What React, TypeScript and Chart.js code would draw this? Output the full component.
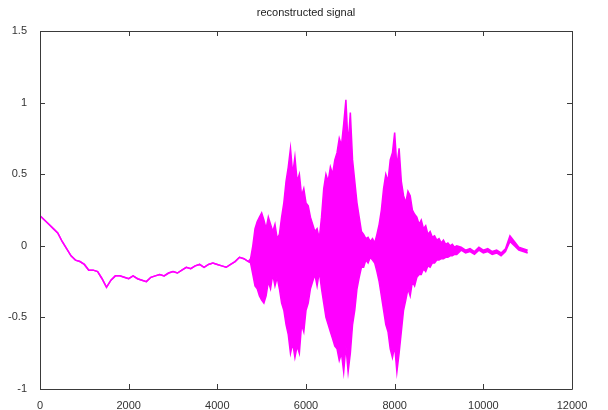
import React, { useEffect, useRef } from "react";
import { Chart, registerables } from "chart.js";

Chart.register(...registerables);

// slow drift before voicing: samples 0..4700, every 100 samples
const SMOOTH_START = 0;
const SMOOTH_STEP = 100;
const smoothPart = [
  0.21, 0.18, 0.15, 0.12, 0.09, 0.03, -0.02, -0.07, -0.1, -0.11,
  -0.13, -0.17, -0.17, -0.18, -0.23, -0.29, -0.24, -0.21, -0.21, -0.22,
  -0.23, -0.21, -0.23, -0.24, -0.25, -0.22, -0.21, -0.2, -0.21, -0.19,
  -0.18, -0.19, -0.17, -0.15, -0.16, -0.14, -0.13, -0.15, -0.13, -0.12,
  -0.13, -0.14, -0.15, -0.13, -0.11, -0.08, -0.09, -0.11,
];

// voiced region: samples 4750..9400, every 50 samples (upper / lower envelope)
const VOICED_START = 4750;
const VOICED_STEP = 50;
const voicedUpper = [
  -0.09, 0.0, 0.12, 0.17, 0.2, 0.23, 0.18, 0.12, 0.2, 0.15, 0.1, 0.15, 0.05, 0.08, 0.2,
  0.3, 0.45, 0.55, 0.68, 0.5, 0.62, 0.45, 0.5, 0.35, 0.4, 0.3, 0.28, 0.2, 0.15, 0.1, 0.12, 0.05, 0.2,
  0.4, 0.5, 0.45, 0.55, 0.5, 0.6, 0.65, 0.75, 0.7, 0.85, 1.02, 0.7, 0.93, 0.6, 0.45, 0.3, 0.2, 0.1, 0.08,
  0.05, 0.06, 0.03, 0.05, 0.02, 0.08, 0.15,
  0.25, 0.4, 0.5, 0.45, 0.6, 0.65, 0.79, 0.55, 0.68, 0.45, 0.35, 0.3, 0.38, 0.35, 0.25, 0.22, 0.2, 0.15,
  0.18, 0.12, 0.14, 0.08, 0.1, 0.06, 0.07, 0.04, 0.05, 0.02, 0.04, 0.01, 0.02, 0.0, 0.01, -0.01, 0.0,
];
const voicedLower = [
  -0.12, -0.2, -0.28, -0.3, -0.35, -0.38, -0.4, -0.35, -0.25, -0.3, -0.2, -0.28, -0.22, -0.3, -0.4,
  -0.45, -0.55, -0.62, -0.75, -0.68, -0.78, -0.7, -0.75, -0.55, -0.6, -0.45, -0.4, -0.3, -0.25, -0.2, -0.28, -0.18, -0.3,
  -0.4, -0.5, -0.55, -0.6, -0.65, -0.7, -0.72, -0.8, -0.75, -0.88, -0.7, -0.88, -0.75, -0.55, -0.45, -0.3, -0.22, -0.15, -0.15,
  -0.1, -0.12, -0.08, -0.1, -0.12, -0.18, -0.25,
  -0.35, -0.45, -0.55, -0.6, -0.72, -0.78, -0.7, -0.88, -0.75, -0.6, -0.45, -0.38, -0.3, -0.35, -0.25, -0.28, -0.22, -0.2,
  -0.2, -0.16, -0.18, -0.14, -0.15, -0.12, -0.12, -0.1, -0.1, -0.09, -0.09, -0.08, -0.08, -0.07, -0.07, -0.06, -0.06,
];

// tail: samples 9500..11000, every 100 samples
const TAIL_START = 9500;
const TAIL_STEP = 100;
const tailUpper = [-0.01, -0.03, -0.02, -0.04, -0.01, -0.03, -0.02, -0.04, -0.03, -0.05, -0.02, 0.07, 0.03, -0.01, -0.02, -0.03];
const tailLower = [-0.03, -0.05, -0.04, -0.06, -0.03, -0.05, -0.04, -0.06, -0.05, -0.07, -0.04, 0.03, 0.0, -0.03, -0.04, -0.05];

const xTicks = [0, 2000, 4000, 6000, 8000, 10000, 12000];
const yTicks = [-1, -0.5, 0, 0.5, 1, 1.5];
const TITLE = "reconstructed signal";

const MAGENTA = "rgb(255,0,255)";
const AXIS = "#3a3a3a";
const FONT = "'Liberation Sans', Arial, sans-serif";

const seg = (start: number, step: number, arr: number[]) => arr.map((y, i) => ({ x: start + i * step, y }));

const upperPoints = [
  ...seg(SMOOTH_START, SMOOTH_STEP, smoothPart),
  ...seg(VOICED_START, VOICED_STEP, voicedUpper),
  ...seg(TAIL_START, TAIL_STEP, tailUpper),
];
const lowerPoints = [
  ...seg(SMOOTH_START, SMOOTH_STEP, smoothPart),
  ...seg(VOICED_START, VOICED_STEP, voicedLower),
  ...seg(TAIL_START, TAIL_STEP, tailLower),
];

const boxPlugin = {
  id: "matlabBox",
  afterDraw(chart: any) {
    const { ctx, chartArea } = chart;
    const { left, right, top, bottom } = chartArea;
    const xs = chart.scales.x;
    const ys = chart.scales.y;
    ctx.save();
    ctx.strokeStyle = AXIS;
    ctx.lineWidth = 1;
    ctx.beginPath();
    ctx.rect(Math.round(left) + 0.5, Math.round(top) + 0.5, Math.round(right - left), Math.round(bottom - top));
    ctx.stroke();
    const tl = 5;
    ctx.beginPath();
    xTicks.forEach((v) => {
      const px = Math.round(xs.getPixelForValue(v)) + 0.5;
      ctx.moveTo(px, bottom);
      ctx.lineTo(px, bottom - tl);
      ctx.moveTo(px, top);
      ctx.lineTo(px, top + tl);
    });
    yTicks.forEach((v) => {
      const py = Math.round(ys.getPixelForValue(v)) + 0.5;
      ctx.moveTo(left, py);
      ctx.lineTo(left + tl, py);
      ctx.moveTo(right, py);
      ctx.lineTo(right - tl, py);
    });
    ctx.stroke();
    ctx.fillStyle = "#222";
    ctx.font = `11px ${FONT}`;
    ctx.textAlign = "center";
    ctx.textBaseline = "middle";
    ctx.fillText(TITLE, (left + right) / 2, 13);
    ctx.restore();
  },
};

export default function App() {
  const ref = useRef<HTMLCanvasElement | null>(null);
  useEffect(() => {
    if (!ref.current) return;
    const chart = new Chart(ref.current, {
      type: "line",
      data: {
        datasets: [
          {
            data: upperPoints,
            borderColor: MAGENTA,
            borderWidth: 1.5,
            pointRadius: 0,
            tension: 0,
            fill: false,
          },
          {
            data: lowerPoints,
            borderColor: MAGENTA,
            borderWidth: 1.5,
            pointRadius: 0,
            tension: 0,
            fill: "-1",
            backgroundColor: MAGENTA,
          },
        ],
      },
      options: {
        animation: false,
        responsive: false,
        layout: { padding: { top: 31, right: 36, left: 0, bottom: 0 } },
        plugins: { legend: { display: false }, tooltip: { enabled: false }, title: { display: false } },
        scales: {
          x: {
            type: "linear",
            min: 0,
            max: 12000,
            afterBuildTicks: (s: any) => {
              s.ticks = xTicks.map((v) => ({ value: v }));
            },
            afterFit: (s: any) => {
              s.height = 21;
            },
            grid: { display: false },
            border: { display: false },
            ticks: {
              color: "#333",
              font: { family: FONT, size: 11 },
              padding: 2,
              maxRotation: 0,
              callback: (v: any) => String(v),
            },
          },
          y: {
            type: "linear",
            min: -1,
            max: 1.5,
            afterBuildTicks: (s: any) => {
              s.ticks = yTicks.map((v) => ({ value: v }));
            },
            afterFit: (s: any) => {
              s.width = 40;
            },
            grid: { display: false },
            border: { display: false },
            ticks: {
              color: "#333",
              font: { family: FONT, size: 11 },
              padding: 5,
              callback: (v: any) => String(v),
            },
          },
        },
      },
      plugins: [boxPlugin],
    });
    return () => chart.destroy();
  }, []);
  return (
    <div style={{ position: "absolute", left: 0, top: 0, width: 608, height: 410, background: "#fff" }}>
      <canvas ref={ref} width={608} height={410} />
    </div>
  );
}
